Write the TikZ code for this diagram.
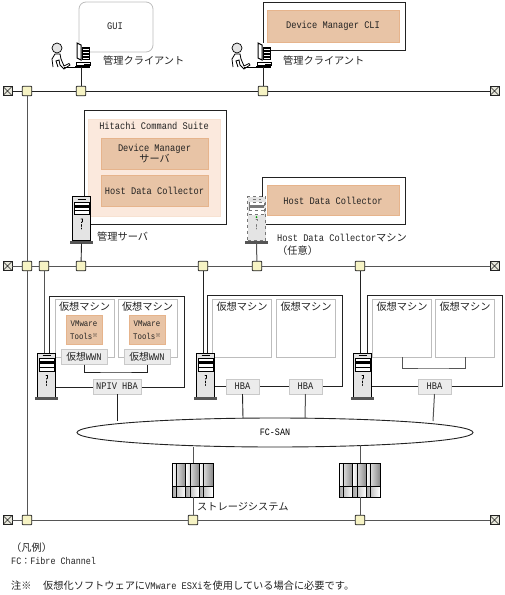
\documentclass[tikz,border=0pt]{standalone}
\usepackage{fontspec}
\setmainfont[FakeStretch=0.86]{Liberation Mono}
\newfontfamily\jp{Noto Sans CJK JP}
\usetikzlibrary{shapes.geometric}
\definecolor{ink}{HTML}{222222}
\definecolor{rail}{HTML}{555555}
\definecolor{pale}{HTML}{F6F3C4}
\definecolor{peach}{HTML}{E8C4A6}
\definecolor{peachedge}{HTML}{E6B48C}
\definecolor{cream}{HTML}{FBE9DD}
\definecolor{hbafill}{HTML}{ECECEC}
\definecolor{vmedge}{HTML}{BDBDBD}
\definecolor{body}{HTML}{E4E4E4}
\tikzset{
  txt/.style={font=\fontsize{10.1}{11.5}\selectfont,text=ink,inner sep=0pt,align=center},
  jtxt/.style={font=\jp\fontsize{10.2}{12.5}\selectfont,text=ink,inner sep=0pt,anchor=west},
  ltxt/.style={font=\fontsize{9.8}{11}\selectfont,text=ink,inner sep=0pt,anchor=west},
  link/.style={line width=0.9pt,draw=ink},
  glink/.style={line width=1pt,draw=rail},
  jct/.style={draw=ink,fill=pale,line width=0.8pt,rounded corners=0.8pt,minimum size=9.5pt,inner sep=0pt,outer sep=0pt},
  endcap/.style={draw=ink,fill=pale!60!gray!40,line width=0.8pt,minimum size=9pt,inner sep=0pt,outer sep=0pt,
    path picture={\draw[ink,line width=0.6pt] (path picture bounding box.north west)--(path picture bounding box.south east)
      (path picture bounding box.north east)--(path picture bounding box.south west);}},
  frame/.style={draw=ink,fill=white,line width=0.9pt,inner sep=0pt,outer sep=0pt},
  softbox/.style={draw=cream!80!peach,fill=cream,inner sep=0pt,outer sep=0pt},
  appbox/.style={txt,draw=peachedge,fill=peach,line width=0.7pt,outer sep=0pt},
  vmbox/.style={draw=vmedge,fill=white,line width=0.8pt,minimum width=59pt,minimum height=58pt,inner sep=0pt,outer sep=0pt},
  hbabox/.style={txt,draw=hbafill!85!black,fill=hbafill,line width=0.6pt,minimum height=15pt,outer sep=0pt},
  vmtitle/.style={jtxt,anchor=center},
  pics/server/.style={code={
    \node[draw,fill=body,line width=0.8pt,minimum width=18pt,minimum height=44pt,inner sep=0pt,outer sep=0pt] (body) at (0,0) {};
    \fill[rail] (-11.5,22) rectangle (11.5,25);
    \draw[line width=0.5pt] (-4,-19.5)--(4,-19.5);
    \draw[line width=0.7pt,fill=white] (-7.5,-16.5) rectangle (7.5,-4);
    \fill (-7.5,-14) rectangle (7.5,-11);
    \draw[line width=0.5pt] (-7.5,-8)--(7.5,-8);
    \draw[line width=0.8pt,line cap=round] (-0.5,0.5)--(1,0.5)--(1,3)--(0,4) (0,6)--(0,8) (0,9.5)--(0,10.5);
  }},
  pics/person/.style={code={
    \fill[body] (6,6) circle (5pt);
    \draw[line width=0.7pt] (6,6) circle (5pt);
    \draw[line width=0.8pt,fill=white] (2,25)--(1,17)--(4,12)--(9,12)--(10,17)--(13,24)--(18,21.5)--(19,23)--(13,27)--(9,23)--(8,18)--(5,19)--(7,25);
    \draw[line width=1.6pt] (13,25.5)--(26,25.5);
  }},
  pics/client/.style={code={
    \fill[white] (2,0) rectangle (15,18);
    \draw[line width=1pt] (2,0)--(2,15)--(6,17)--(6,2)--cycle;
    \fill (7,4) rectangle (15,17);
    \foreach \s in {6,9,12,15}{\draw[white,line width=0.8pt] (8,\s)--(14,\s);}
    \draw[line width=0.8pt,fill=white] (1,19) rectangle (15,22);
    \fill (0,23) rectangle (15,25);
    \fill (9,21) rectangle (15,25);
  }},
  pics/storage/.style={code={
    \foreach \d in {0,13.5,27}{
      \shade[left color=white,right color=gray!90] (\d,0) rectangle ++(13.5,23);
      \shade[left color=gray!70,right color=white] (\d,23) rectangle ++(13.5,11);
      \draw[line width=0.9pt] (\d+4.5,0)--(\d+4.5,34);
    }
    \draw[line width=0.5pt] (0,23)--(41,23);
    \draw[line width=0.9pt] (0,0) rectangle (41,34);
    \draw[line width=0.9pt] (13.5,0)--(13.5,34) (27,0)--(27,34);
  }},
}
\begin{document}
\begin{tikzpicture}[x=1pt,y=-1pt]
\useasboundingbox (0,0) rectangle (504,595);
% rails
\foreach \n/\y in {A/91,B/266,C/520}{
  \node[endcap] (end\n l) at (7.5,\y) {};
  \node[endcap] (end\n r) at (494.5,\y) {};
}
\foreach \n/\x/\y in {aa/27/91,ab/81/91,ac/263/91,ba/27/266,bb/44/266,bc/81/266,bd/203/266,be/257/266,bf/360/266,ca/27/520,cb/193/520,cc/360/520}{
  \node[jct] (j\n) at (\x,\y) {};
}
\draw[link] (endAl)--(jaa); \draw[link] (jaa)--(jab); \draw[link] (jab)--(jac); \draw[link] (jac)--(endAr);
\draw[glink] (endBl)--(jba); \draw[glink] (jba)--(jbb); \draw[glink] (jbb)--(jbc); \draw[glink] (jbc)--(jbd);
\draw[glink] (jbd)--(jbe); \draw[glink] (jbe)--(jbf); \draw[glink] (jbf)--(endBr);
\draw[glink] (endCl)--(jca); \draw[glink] (jca)--(jcb); \draw[glink] (jcb)--(jcc); \draw[glink] (jcc)--(endCr);
\draw[glink] (jaa)--(jba); \draw[glink] (jba)--(jca);

% clients
\node[draw=vmedge,fill=white,rounded corners=7pt,line width=0.8pt,minimum width=74pt,minimum height=50pt,inner sep=0pt] (gui) at (116,27) {};
\node[txt] (guilabel) at (115,26) {GUI};
\node[frame,minimum width=142pt,minimum height=48pt] (cli) at (334,26) {};
\node[appbox,minimum width=132pt,minimum height=32pt] (cliapp) at (333,26) {Device Manager CLI};
\pic at (51,42) {person};
\pic at (75,43) {client};
\pic at (231,42) {person};
\pic at (256,43) {client};
\node[jtxt] (clientA) at (103,61) {管理クライアント};
\node[jtxt] (clientB) at (283,61) {管理クライアント};
\coordinate (pcA) at (81,67);
\coordinate (pcB) at (263,67);
\draw[link] (pcA)--(jab);
\draw[link] (pcB)--(jac);

% management server
\node[frame,minimum width=142pt,minimum height=114pt] (mgmt) at (155,167) {};
\node[softbox,minimum width=132pt,minimum height=97pt] (hcs) at (154,167.5) {};
\node[txt] (hcslabel) at (154,126) {Hitachi Command Suite};
\node[appbox,minimum width=107pt,minimum height=31pt] (dm) at (154.5,153.5) {Device Manager\\[-1pt]{\jp サーバ}};
\node[appbox,minimum width=107pt,minimum height=31pt] (hdcA) at (154.5,190.5) {Host Data Collector};
\pic (srvM) at (81.5,218.5) {server};
\node[jtxt] (mgmtlabel) at (97,237) {管理サーバ};
\coordinate (srvMfoot) at (81.5,243.5);
\draw[link] (srvMfoot)--(jbc);

% collector machine
\node[frame,minimum width=143pt,minimum height=47pt] (hdc) at (333.5,200.5) {};
\node[appbox,minimum width=132pt,minimum height=30pt] (hdcB) at (333,200.5) {Host Data Collector};
\pic[dashed,rail!80] (srvD) at (256.5,218.5) {server};
\fill[green!60!black] (256.5,217) circle (1pt);
\node[ltxt,font=\fontsize{10.1}{11}\selectfont] (hdclabel) at (277,238) {Host Data Collector{\jp\fontsize{10.2}{12}\selectfont マシン}};
\node[jtxt] (optlabel) at (277,251) {（任意）};
\coordinate (srvDfoot) at (256.5,243.5);
\draw[glink] (srvDfoot)--(jbe);

% virtual hosts
\node[frame,minimum width=135pt,minimum height=91pt] (hostA) at (116.5,341.5) {};
\node[frame,minimum width=135pt,minimum height=91pt] (hostB) at (274.5,341) {};
\node[frame,minimum width=135pt,minimum height=91pt] (hostC) at (434.5,341) {};
\foreach \n/\x in {a/84.5,b/147.5,c/242,d/306,e/402,f/465}{
  \node[vmbox] (vm\n) at (\x,328) {};
  \node[vmtitle] (title\n) at (\x,306.5) {仮想マシン};
}
\foreach \n/\x in {a/84,b/147}{
  \node[appbox,font=\fontsize{8.6}{13}\selectfont,minimum width=36pt,minimum height=29pt] (tools\n) at (\x,330) {VMware\\Tools{\raisebox{2pt}{\jp\fontsize{5.5}{6}\selectfont ※}}};
  \node[hbabox,minimum width=46pt] (wwn\n) at (\x,357) {{\jp\fontsize{9.8}{11}\selectfont 仮想}WWN};
}
\coordinate (wwnmid) at (116,372);
\draw[link] (wwna.south)|-(wwnmid)-|(wwnb.south);
\node[hbabox,minimum width=48pt] (npiv) at (117,386.5) {NPIV HBA};
\foreach \n/\x in {a/242.5,b/305.5,c/434.5}{
  \node[hbabox,minimum width=33pt] (hba\n) at (\x,386.5) {HBA};
}
\coordinate (vmmid) at (433,368);
\draw[link,draw=rail] (vme.south)|-(vmmid)-|(vmf.south);
\pic (srvA) at (46.5,375) {server};
\pic (srvB) at (205.5,375) {server};
\pic (srvC) at (362.5,375) {server};
\coordinate (srvAtop) at (44,353);
\coordinate (srvBtop) at (203,353);
\coordinate (srvCtop) at (360,353);
\draw[glink] (jbb)--(srvAtop);
\draw[link] (jbd)--(srvBtop);
\draw[link] (jbf)--(srvCtop);

% san and storage
\node[draw=ink,fill=white,ellipse,line width=0.9pt,minimum width=396pt,minimum height=29pt,inner sep=0pt,outer sep=0pt,font=\fontsize{9.8}{10}\selectfont] (san) at (275,432.5) {FC-SAN};
\coordinate (sanC) at (117,420.5);
\coordinate (sanD) at (243,418);
\coordinate (sanE) at (305,418);
\coordinate (sanF) at (433,421);
\draw[link] (npiv.south)--(sanC);
\draw[link] (hbaa.south)--(sanD);
\draw[glink] (hbab.south)--(sanE);
\draw[glink] (hbac.south)--(sanF);
\pic (storeA) at (172,463) {storage};
\pic (storeB) at (339,463) {storage};
\coordinate (storeAtop) at (193,463); \coordinate (storeAbot) at (193,497);
\coordinate (storeBtop) at (360,463); \coordinate (storeBbot) at (360,497);
\coordinate (sanA) at (193,447); \coordinate (sanB) at (360,445);
\draw[glink] (sanA)--(storeAtop); \draw[glink] (storeAbot)--(jcb);
\draw[glink] (sanB)--(storeBtop); \draw[glink] (storeBbot)--(jcc);
\node[jtxt] (storelabel) at (197,507) {ストレージシステム};

% legend
\node[jtxt] (legend) at (11,548) {（凡例）};
\node[ltxt] (legendfc) at (11,561) {FC{\jp\fontsize{9}{10}\selectfont ：}Fibre Channel};
\node[jtxt] (note) at (11,585.5) {注※};
\node[jtxt] (notetext) at (43,585.5) {仮想化ソフトウェアに{\rmfamily\fontsize{10.1}{10}\selectfont VMware ESXi}を使用している場合に必要です。};
\end{tikzpicture}
\end{document}
